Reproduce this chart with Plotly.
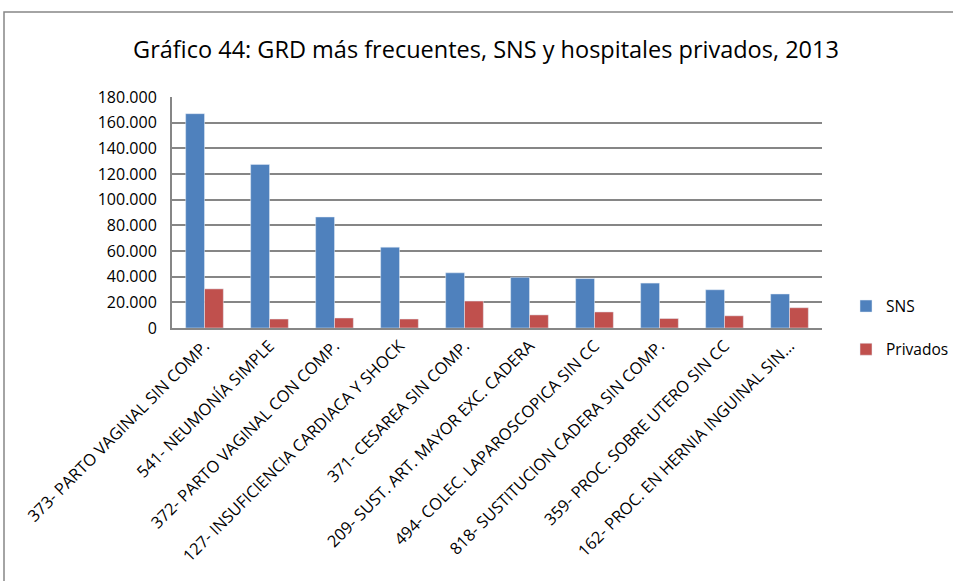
import plotly.graph_objects as go

categorias = [
    "373- PARTO VAGINAL SIN COMP.",
    "541- NEUMONÍA SIMPLE",
    "372- PARTO VAGINAL CON COMP.",
    "127- INSUFICIENCIA CARDIACA Y SHOCK",
    "371- CESAREA SIN COMP.",
    "209- SUST. ART. MAYOR EXC. CADERA",
    "494- COLEC. LAPAROSCOPICA SIN CC",
    "818- SUSTITUCION CADERA SIN COMP.",
    "359- PROC. SOBRE UTERO SIN CC",
    "162- PROC. EN HERNIA INGUINAL SIN...",
]
sns = [167000, 127500, 86500, 63000, 43000, 39500, 38500, 35000, 29800, 26500]
privados = [30500, 7000, 7800, 7000, 21000, 10200, 12500, 7400, 9500, 15800]
y_ticks = [0, 20000, 40000, 60000, 80000, 100000, 120000, 140000, 160000, 180000]

FONT = "Open Sans, Noto Sans, Arial"
GRID = "#868686"

# plot-area box in pixels
L, R, T, B = 172, 822, 97, 328
W, H = 953, 581
PW, PH = R - L, B - T

fig = go.Figure()
fig.add_trace(go.Bar(x=categorias, y=sns, name="SNS", marker_color="#4F81BD",
                     legendgroup="a"))
fig.add_trace(go.Bar(x=categorias, y=privados, name="Privados", marker_color="#C0504D",
                     legendgroup="b"))

fig.update_layout(
    width=W, height=H,
    margin=dict(l=L, r=W - R, t=T, b=H - B, autoexpand=False),
    paper_bgcolor="white", plot_bgcolor="white",
    separators=",.",
    font=dict(family=FONT, color="#000000", size=14),
    title=dict(text="Gráfico 44: GRD más frecuentes, SNS y hospitales privados, 2013",
               x=(486 - L) / PW, xanchor="center", xref="paper",
               y=1 - 50 / H, yanchor="middle",
               font=dict(size=23.5, family=FONT)),
    barmode="group", bargap=0.42, bargroupgap=0,
    legend=dict(x=(846 - L) / PW, xanchor="left", y=(B - 328) / PH, yanchor="middle",
                font=dict(size=15.5, family=FONT), tracegroupgap=20,
                itemwidth=30, traceorder="grouped"),
    showlegend=True,
)
fig.update_xaxes(
    tickangle=-45, tickfont=dict(size=16.4, family=FONT),
    showline=True, linecolor=GRID, linewidth=2, ticks="", showgrid=False,
)
fig.update_yaxes(
    range=[0, 180000], tickvals=y_ticks, tickformat=",.0f",
    tickfont=dict(size=16, family=FONT), ticklabelstandoff=10,
    showgrid=True, gridcolor=GRID, gridwidth=2,
    showline=True, linecolor=GRID, linewidth=2, zeroline=False,
    ticks="", mirror=False,
)
# outer chart border
fig.add_shape(type="rect", xref="paper", yref="paper",
              x0=(4 - L) / PW, x1=(W + 10 - L) / PW,
              y0=(B - (H + 10)) / PH, y1=(B - 12) / PH,
              line=dict(color=GRID, width=1.5), layer="below")

fig.write_html("out.html")
